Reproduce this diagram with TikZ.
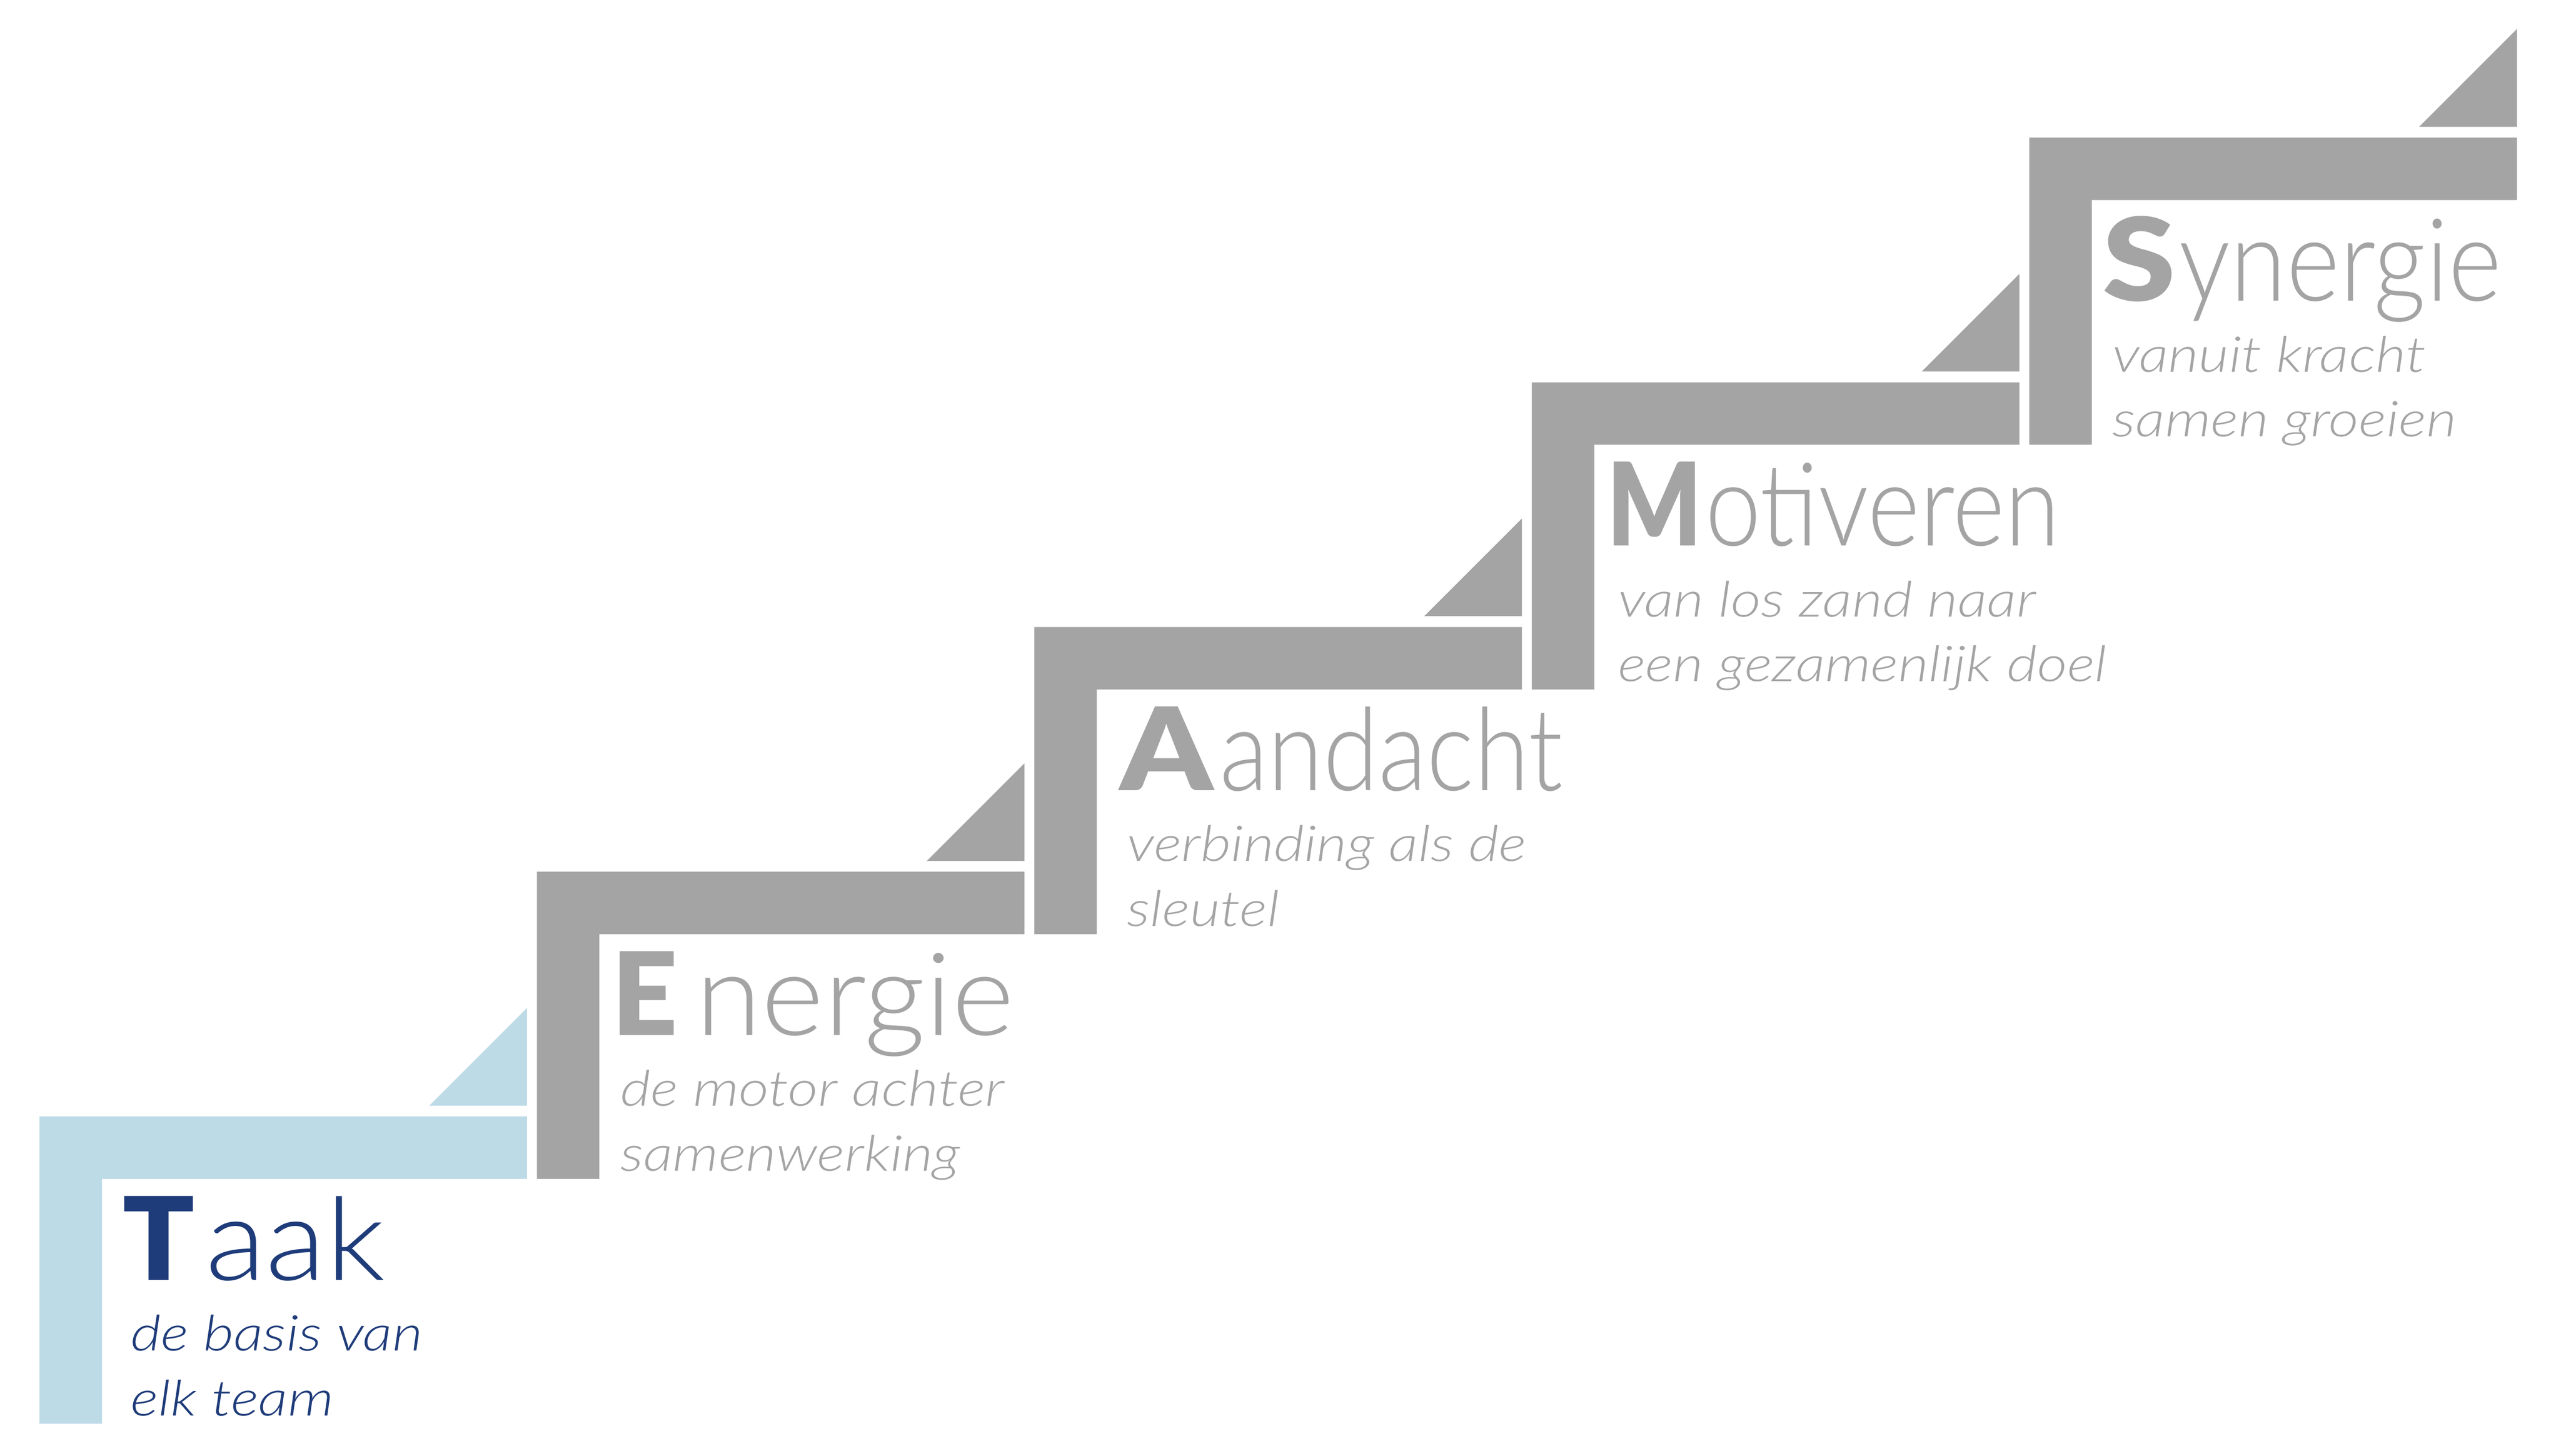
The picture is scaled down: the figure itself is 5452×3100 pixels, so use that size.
\documentclass[tikz,border=0pt]{standalone}
\usepackage{fontspec}
\IfFontExistsTF{Lato Light}{\newfontfamily\lightfont{Lato Light}}{\newfontfamily\lightfont{Lato}}
\IfFontExistsTF{Lato Light Italic}{\newfontfamily\lightitfont{Lato Light Italic}[FakeStretch=1.19]}{\newfontfamily\lightitfont{Lato Italic}[FakeStretch=1.19]}
\IfFontExistsTF{Lato Black}{\newfontfamily\heavyfont{Lato Black}}{\newfontfamily\heavyfont{Lato Bold}}
\definecolor{stepblue}{HTML}{BDDAE7}
\definecolor{stepgray}{HTML}{A4A4A4}
\definecolor{textblue}{HTML}{1F3C7A}
\newdimen\pxu \pxu=0.28453pt
% #1 initial, #2 its x-stretch, #3 gap (px), #4 rest of word, #5 its x-stretch
\newcommand\steptitle[5]{{\heavyfont\scalebox{#2}[1]{#1}}\kern#3\pxu\scalebox{#5}[1]{#4}}
\tikzset{
  titletext/.style={inner sep=0pt, anchor=base west, font=\fontsize{69.7pt}{80pt}\selectfont\lightfont},
  subtext/.style={inner sep=0pt, anchor=base west, font=\fontsize{29.9pt}{39pt}\selectfont\lightitfont},
}
\begin{document}
\begin{tikzpicture}[x=0.01cm, y=-0.01cm]
\useasboundingbox[fill=white] (0,0) rectangle (5452,3100);
\foreach \k/\F/\fs/\g/\R/\rs/\tdx/\sdx/\la/\lb/\fc/\tc in {
  0/T/1.03/23/aak/1.08/17/17/de basis van/elk team/stepblue/textblue,
  1/E/1.0/38/nergie/1.04/0/0/de motor achter/samenwerking/stepgray/stepgray,
  2/A/1.14/14/andacht/0.87/22/20/verbinding als de/sleutel/stepgray/stepgray,
  3/M/0.86/7/otiveren/0.87/0/6/van los zand naar/een gezamenlijk doel/stepgray/stepgray,
  4/S/1.14/8/ynergie/0.885/-3/0/vanuit kracht/samen groeien/stepgray/stepgray}{
  \pgfmathsetmacro\X{84+1059*\k}
  \pgfmathsetmacro\Y{2377-521*\k}
  % L-shaped step
  \fill[\fc] (\X,\Y) -- ++(1038,0) -- ++(0,133) -- ++(-905,0) -- ++(0,521) -- ++(-133,0) -- cycle;
  % triangle
  \fill[\fc] (\X+830,\Y-23) -- (\X+1038,\Y-23) -- (\X+1038,\Y-231) -- cycle;
  % texts
  \node[titletext, text=\tc] (title\k) at (\X+159+\tdx,\Y+348) {\steptitle{\F}{\fs}{\g}{\R}{\rs}};
  \node[subtext, text=\tc] (suba\k) at (\X+177+\sdx,\Y+499) {\la};
  \node[subtext, text=\tc] (subb\k) at (\X+177+\sdx,\Y+637) {\lb};
}
\end{tikzpicture}
\end{document}
